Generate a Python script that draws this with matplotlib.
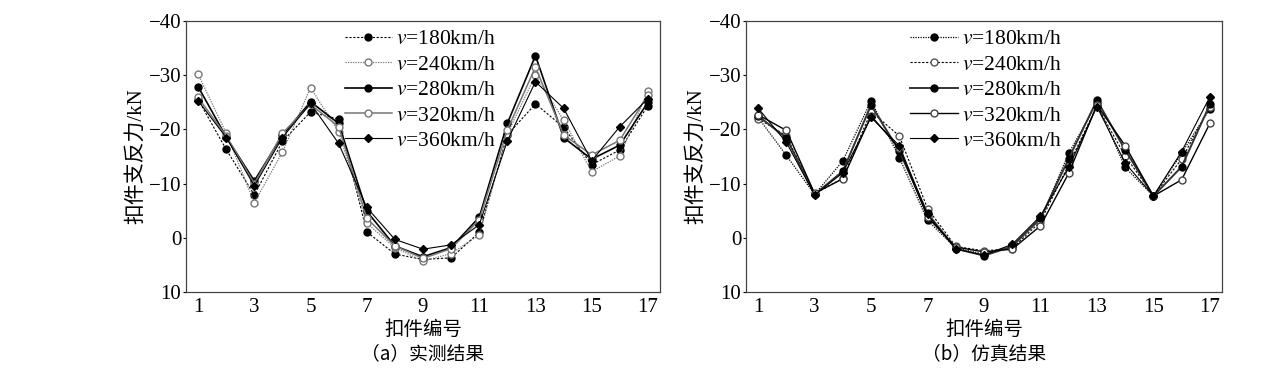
import numpy as np
import matplotlib
matplotlib.use("Agg")
import matplotlib.pyplot as plt

plt.rcParams['font.family'] = ['Liberation Serif', 'Noto Sans CJK SC']
plt.rcParams['mathtext.fontset'] = 'stix'
plt.rcParams['axes.unicode_minus'] = True

# fastener number
fasteners = np.arange(1, 18)
speeds = ['180', '240', '280', '320', '360']

# (a) measured, kN (negative = upward reaction, axis inverted)
measured = {
    '180': [-25.5, -16.3, -7.9, -17.8, -23.2, -21.9, -1.1, 3.0, 4.0, 3.7, -1.0, -19.0, -24.7, -20.4, -13.5, -16.2, -24.4],
    '240': [-30.2, -19.3, -6.5, -15.8, -27.7, -19.6, -2.7, 1.8, 4.3, 2.9, -0.5, -19.2, -30.0, -21.7, -12.2, -15.1, -27.0],
    '280': [-27.9, -18.6, -10.5, -18.9, -25.1, -21.1, -4.9, 1.5, 3.5, 1.8, -3.8, -21.1, -33.6, -18.5, -14.5, -17.1, -25.0],
    '320': [-25.9, -18.8, -10.0, -19.3, -24.6, -20.5, -3.6, 1.5, 3.8, 2.0, -3.3, -19.9, -31.5, -19.0, -15.3, -18.0, -26.4],
    '360': [-25.3, -18.5, -9.6, -18.5, -24.8, -17.4, -5.6, 0.3, 2.1, 1.3, -2.4, -17.9, -28.8, -23.9, -14.2, -20.5, -25.7],
}

# (b) simulated, kN
simulated = {
    '180': [-22.2, -15.2, -8.0, -14.2, -25.3, -14.8, -3.2, 1.9, 3.0, 1.5, -3.4, -15.6, -24.8, -13.0, -7.7, -15.6, -23.8],
    '240': [-22.0, -18.8, -8.1, -11.0, -23.3, -18.8, -5.4, 1.6, 2.4, 2.0, -3.0, -13.5, -24.3, -15.1, -7.8, -14.5, -24.2],
    '280': [-22.5, -18.4, -8.0, -12.3, -24.5, -16.0, -4.5, 2.0, 3.3, 1.6, -3.6, -14.6, -25.4, -16.2, -7.7, -13.1, -24.6],
    '320': [-22.7, -19.8, -8.2, -10.9, -22.5, -16.5, -3.8, 1.7, 2.6, 2.1, -2.2, -11.9, -24.5, -17.0, -7.7, -10.7, -21.1],
    '360': [-23.9, -17.6, -7.9, -12.0, -22.2, -17.0, -4.3, 2.1, 3.2, 1.2, -4.0, -13.0, -24.2, -13.8, -7.7, -15.9, -26.0],
}

styles_a = {
    '180': dict(color='black', ls=(0, (2, 1.5)), lw=0.8, marker='o', mfc='black', mec='black', ms=5),
    '240': dict(color='#777777', ls=(0, (1, 1)), lw=0.9, marker='o', mfc='white', mec='#777777', ms=5),
    '280': dict(color='black', ls='-', lw=1.2, marker='o', mfc='black', mec='black', ms=5),
    '320': dict(color='#777777', ls='-', lw=1.1, marker='o', mfc='white', mec='#777777', ms=5),
    '360': dict(color='black', ls='-', lw=0.8, marker='D', mfc='black', mec='black', ms=4),
}
styles_b = {
    '180': dict(color='black', ls=(0, (1, 1)), lw=0.9, marker='o', mfc='black', mec='black', ms=5),
    '240': dict(color='black', ls=(0, (2, 1.5)), lw=0.8, marker='o', mfc='white', mec='#555555', ms=5),
    '280': dict(color='#333333', ls='-', lw=1.4, marker='o', mfc='black', mec='black', ms=5),
    '320': dict(color='black', ls='-', lw=1.0, marker='o', mfc='white', mec='#444444', ms=5),
    '360': dict(color='black', ls='-', lw=0.8, marker='D', mfc='black', mec='black', ms=4),
}

fig = plt.figure(figsize=(12.86, 3.81), dpi=100)
ax_a = fig.add_axes([186 / 1286, 89 / 381, 474 / 1286, 271 / 381])
ax_b = fig.add_axes([746 / 1286, 89 / 381, 476 / 1286, 271 / 381])

cjk = ['Noto Sans CJK SC', 'Liberation Serif']
serif_cjk = ['Liberation Serif', 'Noto Sans CJK SC']

for ax, data, styles, cap, lx in [(ax_a, measured, styles_a, '（a）实测结果', 0.335),
                                   (ax_b, simulated, styles_b, '（b）仿真结果', 0.345)]:
    for s in speeds:
        ax.plot(fasteners, data[s], label='$v$=' + s + 'km/h', **styles[s])
    ax.set_xlim(0.57, 17.43)
    ax.set_ylim(10, -40)
    ax.set_xticks(range(1, 18, 2))
    ax.set_yticks([-40, -30, -20, -10, 0, 10])
    ax.tick_params(axis='x', length=0, pad=4, labelsize=15)
    ax.tick_params(axis='y', length=2, width=0.8, direction='out', pad=1.5, labelsize=15)
    for sp in ax.spines.values():
        sp.set_color('#444444')
        sp.set_linewidth(0.9)
    ax.set_ylabel('扣件支反力/kN', family=serif_cjk, fontsize=15, labelpad=2)
    ax.text(0.5, -0.14, '扣件编号', transform=ax.transAxes, ha='center', va='center',
            family=cjk, fontsize=14)
    ax.text(0.5, -0.228, cap, transform=ax.transAxes, ha='center', va='center',
            family=cjk, fontsize=13.5)
    leg = ax.legend(loc='upper left', bbox_to_anchor=(lx, 0.97), frameon=False,
                    borderpad=0, borderaxespad=0, handlelength=2.2, handletextpad=0.2,
                    labelspacing=0.25, fontsize=15.5)

fig.savefig('out.png', dpi=100)
